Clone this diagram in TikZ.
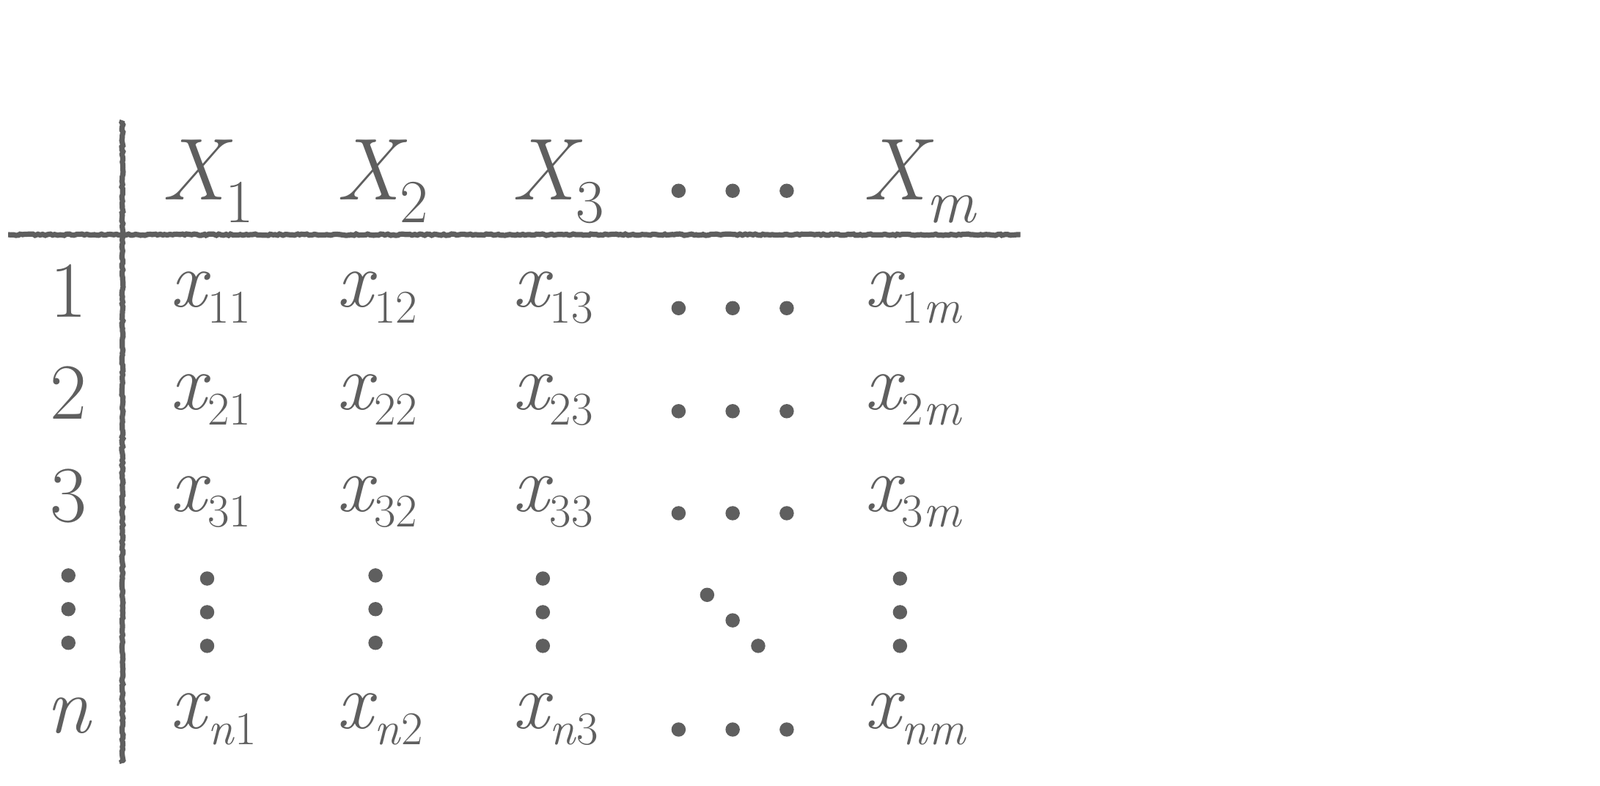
\documentclass[tikz,border=0pt]{standalone}
\usepackage{tikz}
\usetikzlibrary{decorations.pathmorphing}
\definecolor{ink}{HTML}{5F5F5F}
\newcommand{\hd}[2]{{\fontsize{43pt}{50pt}\selectfont\textit{#1}}\kern-3.5pt\raisebox{-11pt}{\fontsize{30pt}{35pt}\selectfont #2}}
\newcommand{\cell}[2]{{\fontsize{39pt}{44pt}\selectfont\textit{#1}}\kern-1.5pt\raisebox{-7.8pt}{\fontsize{23pt}{27pt}\selectfont #2}}

\begin{document}
\begin{tikzpicture}[x=0.5pt,y=-0.5pt]
\tikzstyle{lbl}=[inner sep=0,anchor=base west,text=ink]
\tikzstyle{row}=[inner sep=0,anchor=base,text=ink,font=\fontsize{39pt}{44pt}\selectfont]
\tikzstyle{dot}=[circle,fill=ink,inner sep=0,minimum size=7pt]
\tikzstyle{rule}=[draw=ink,line width=2.6pt,decorate,decoration={random steps,segment length=1.2pt,amplitude=0.35pt}]
\useasboundingbox (0,0) rectangle (1568,770);
% rules of the table
\coordinate (hl) at (8,230);
\coordinate (hr) at (1000,230);
\coordinate (vt) at (120,118);
\coordinate (vb) at (120,748);
\draw[rule] (hl) -- (hr);
\draw[rule] (vt) -- (vb);
% header row
\node[lbl] at(158, 196) (h1) {\hd{X}{1}};
\node[lbl] at(329, 196) (h2) {\hd{X}{2}};
\node[lbl] at(501, 196) (h3) {\hd{X}{3}};
\node[dot] at(665, 187) (hd1) {};
\node[dot] at(718, 187) (hd2) {};
\node[dot] at(771, 187) (hd3) {};
\node[lbl] at(845, 196) (hm) {\hd{X}{\textit{m}}};
% row labels
\node[row] at(67, 311) (r1) {1};
\node[row] at(67, 411) (r2) {2};
\node[row] at(67, 511) (r3) {3};
\node[dot] at(67, 564) (rv1) {};
\node[dot] at(67, 597) (rv2) {};
\node[dot] at(67, 630) (rv3) {};
\node[row] at(68, 718) (rn) {\textit{n}};
% row 1
\node[lbl] at(167, 301) (e11) {\cell{x}{11}};
\node[lbl] at(330, 301) (e12) {\cell{x}{12}};
\node[lbl] at(502, 301) (e13) {\cell{x}{13}};
\node[dot] at(665, 302) (d11) {};
\node[dot] at(718, 302) (d12) {};
\node[dot] at(771, 302) (d13) {};
\node[lbl] at(847, 301) (e1m) {\cell{x}{1\textit{m}}};
% row 2
\node[lbl] at(167, 401) (e21) {\cell{x}{21}};
\node[lbl] at(330, 401) (e22) {\cell{x}{22}};
\node[lbl] at(502, 401) (e23) {\cell{x}{23}};
\node[dot] at(665, 403) (d21) {};
\node[dot] at(718, 403) (d22) {};
\node[dot] at(771, 403) (d23) {};
\node[lbl] at(847, 401) (e2m) {\cell{x}{2\textit{m}}};
% row 3
\node[lbl] at(167, 501) (e31) {\cell{x}{31}};
\node[lbl] at(330, 501) (e32) {\cell{x}{32}};
\node[lbl] at(502, 501) (e33) {\cell{x}{33}};
\node[dot] at(665, 503) (d31) {};
\node[dot] at(718, 503) (d32) {};
\node[dot] at(771, 503) (d33) {};
\node[lbl] at(847, 501) (e3m) {\cell{x}{3\textit{m}}};
% vertical and diagonal dots
\node[dot] at(203, 567) (v11) {};
\node[dot] at(203, 600) (v12) {};
\node[dot] at(203, 633) (v13) {};
\node[dot] at(368, 564) (v21) {};
\node[dot] at(368, 597) (v22) {};
\node[dot] at(368, 630) (v23) {};
\node[dot] at(532, 567) (v31) {};
\node[dot] at(532, 600) (v32) {};
\node[dot] at(532, 633) (v33) {};
\node[dot] at(693, 583) (dd1) {};
\node[dot] at(718, 608) (dd2) {};
\node[dot] at(743, 633) (dd3) {};
\node[dot] at(882, 567) (vm1) {};
\node[dot] at(882, 600) (vm2) {};
\node[dot] at(882, 633) (vm3) {};
% row n
\node[lbl] at(167, 714) (en1) {\cell{x}{\textit{n}1}};
\node[lbl] at(330, 714) (en2) {\cell{x}{\textit{n}2}};
\node[lbl] at(502, 714) (en3) {\cell{x}{\textit{n}3}};
\node[dot] at(665, 715) (dn1) {};
\node[dot] at(718, 715) (dn2) {};
\node[dot] at(771, 715) (dn3) {};
\node[lbl] at(847, 714) (enm) {\cell{x}{\textit{nm}}};
\end{tikzpicture}
\end{document}
